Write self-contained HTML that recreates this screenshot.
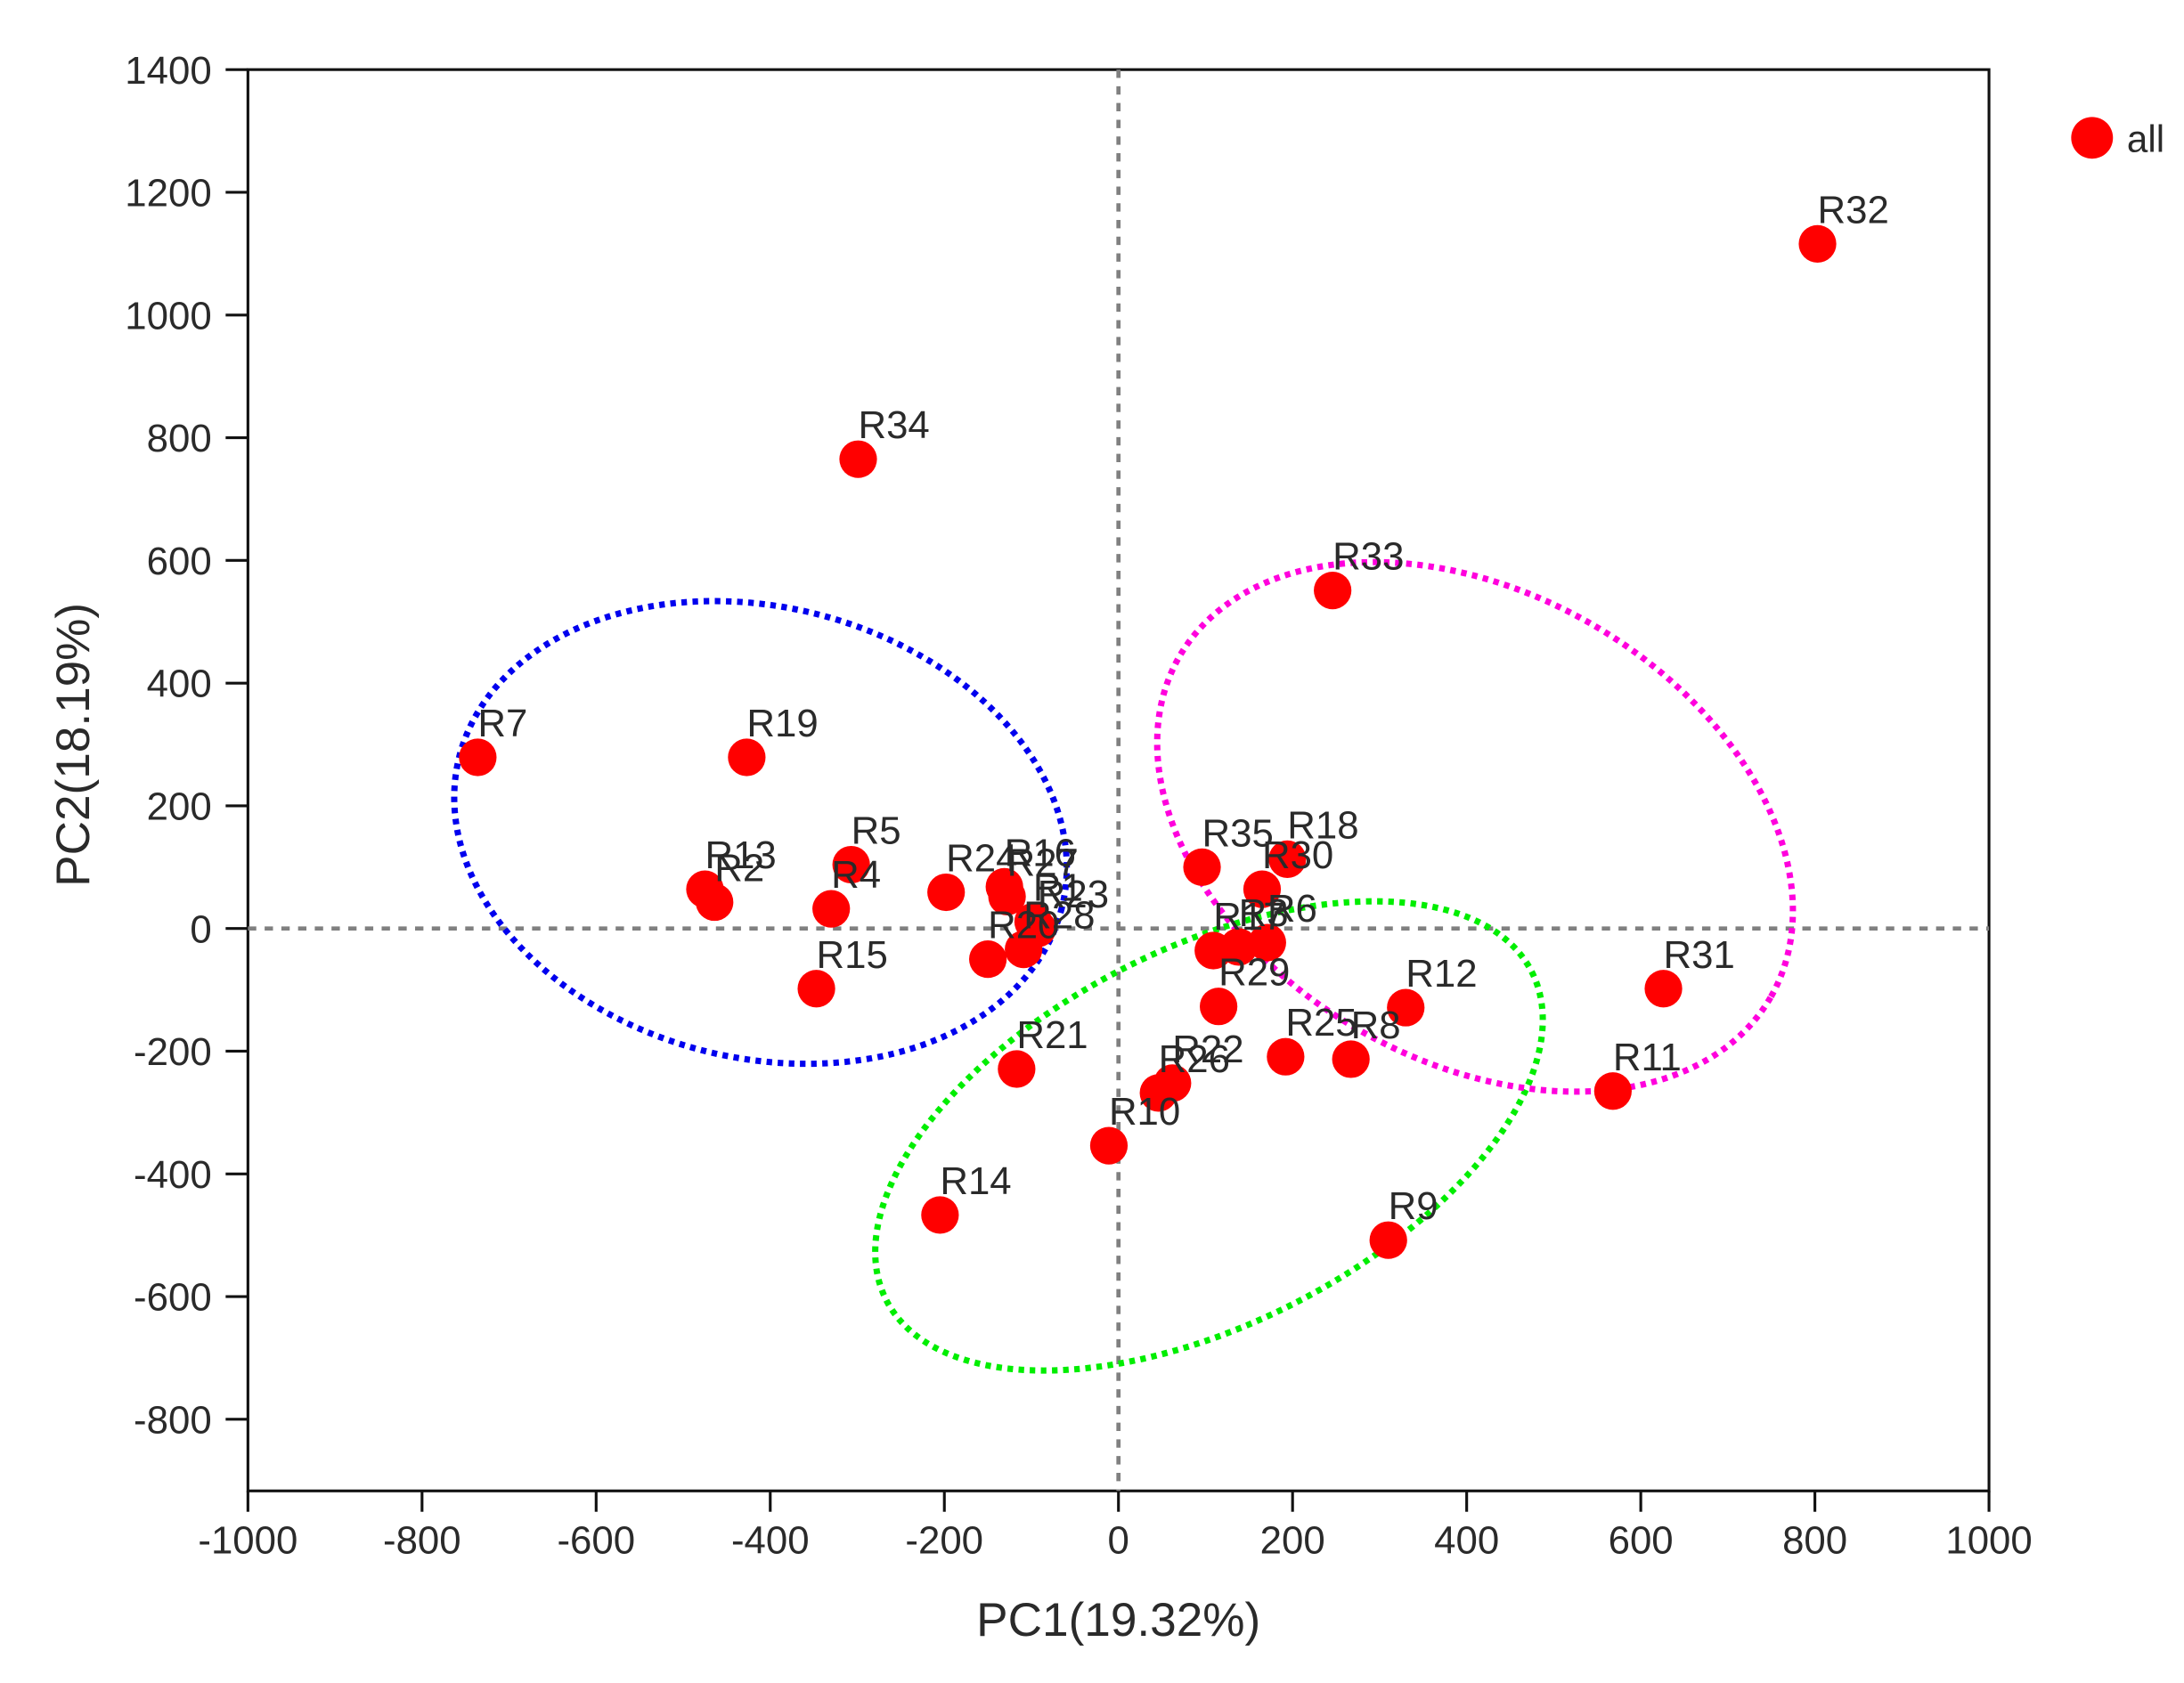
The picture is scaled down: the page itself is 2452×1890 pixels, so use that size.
<!DOCTYPE html>
<html><head><meta charset="utf-8"><style>
html,body{margin:0;padding:0;background:#fff}
svg{display:block}
text{font-family:"Liberation Sans",Arial,sans-serif;fill:#2a2a2a}
</style></head><body>
<svg id="chart" width="2452" height="1890" viewBox="0 0 1568 1209" preserveAspectRatio="none" xmlns="http://www.w3.org/2000/svg">
<g id="axes"></g>
<g id="ellipses"></g>
<g id="points"></g>
<g>
<circle cx="1502" cy="99" r="15" fill="#ff0000"/>
<text x="1527" y="109" font-size="27">all</text>
</g>
<text x="803" y="1175" font-size="34" text-anchor="middle">PC1(19.32%)</text>
<text transform="translate(64,535) rotate(-90)" font-size="34" text-anchor="middle">PC2(18.19%)</text>
</svg>
<script>
const labels = ["R32","R34","R33","R7","R19","R5","R13","R2","R4","R24","R16","R27","R1","R23","R28","R20","R15","R21","R14","R10","R26","R22","R35","R18","R30","R17","R3","R6","R29","R25","R8","R12","R9","R31","R11"];
const pc1 = [803,-299,246,-736,-427,-307,-475,-464,-330,-198,-131,-128,-98,-93,-109,-150,-347,-117,-205,-11,46,62,96,194,165,109,138,171,115,192,267,330,310,626,568];
const pc2 = [1116,765,551,279,279,104,64,43,32,59,68,52,11,0,-34,-50,-98,-229,-467,-354,-268,-252,100,113,64,-36,-30,-23,-127,-209,-213,-129,-508,-98,-265];
const xTicks = [-1000,-800,-600,-400,-200,0,200,400,600,800,1000];
const yTicks = [-800,-600,-400,-200,0,200,400,600,800,1000,1200,1400];

const NS="http://www.w3.org/2000/svg";
const L=178,R=1428,T=50,B=1071;
const sx=v=>803+v*0.625;
const sy=v=>667-v*0.4407;
function mk(tag,attrs,parent){const e=document.createElementNS(NS,tag);for(const k in attrs)e.setAttribute(k,attrs[k]);parent.appendChild(e);return e;}
const ax=document.getElementById('axes');
let fr=mk('rect',{x:L,y:T,width:R-L,height:B-T,fill:'none',stroke:'#111','stroke-width':2},ax);


xTicks.forEach(v=>{
  let t=mk('line',{x1:sx(v),x2:sx(v),y1:B,y2:B+15,stroke:'#111','stroke-width':2},ax);
  
  
  let tx=mk('text',{x:sx(v),y:B+45,'font-size':28,'text-anchor':'middle'},ax);
  tx.textContent=v;
  
  
});
yTicks.forEach(v=>{
  let t=mk('line',{x1:L-16,x2:L,y1:sy(v),y2:sy(v),stroke:'#111','stroke-width':2},ax);
  
  
  let tx=mk('text',{x:L-26,y:sy(v)+10,'font-size':28,'text-anchor':'end'},ax);
  tx.textContent=v;
  
  
});
let z1=mk('line',{x1:sx(0),x2:sx(0),y1:T,y2:B,stroke:'#808080','stroke-width':3,'stroke-dasharray':'6,6'},ax);


let z2=mk('line',{x1:L,x2:R,y1:sy(0),y2:sy(0),stroke:'#808080','stroke-width':3,'stroke-dasharray':'6,6'},ax);



const eg=document.getElementById('ellipses');
let e1=mk('ellipse',{cx:546,cy:598,rx:223,ry:162,transform:'rotate(14 546 598)',fill:'none',stroke:'#0000ee','stroke-width':4.5,'stroke-dasharray':'4,4'},eg);


let e2=mk('ellipse',{cx:868,cy:816,rx:260,ry:135,transform:'rotate(-27 868 816)',fill:'none',stroke:'#00ee00','stroke-width':4.5,'stroke-dasharray':'4,4'},eg);


let e3=mk('ellipse',{cx:1059,cy:594,rx:245,ry:168,transform:'rotate(30 1059 594)',fill:'none',stroke:'#ff00dd','stroke-width':4.5,'stroke-dasharray':'4,4'},eg);



const pg=document.getElementById('points');
labels.forEach((lab,i)=>{
  const cx=sx(pc1[i]),cy=sy(pc2[i]);
  let c=mk('circle',{cx:cx,cy:cy,r:13.5,fill:'#ff0000'},pg);
  
  
});
labels.forEach((lab,i)=>{
  const cx=sx(pc1[i]),cy=sy(pc2[i]);
  let t=mk('text',{x:cx,y:cy-15,'font-size':28},pg);
  t.textContent=lab;
  
  
});
</script>
</body></html>
